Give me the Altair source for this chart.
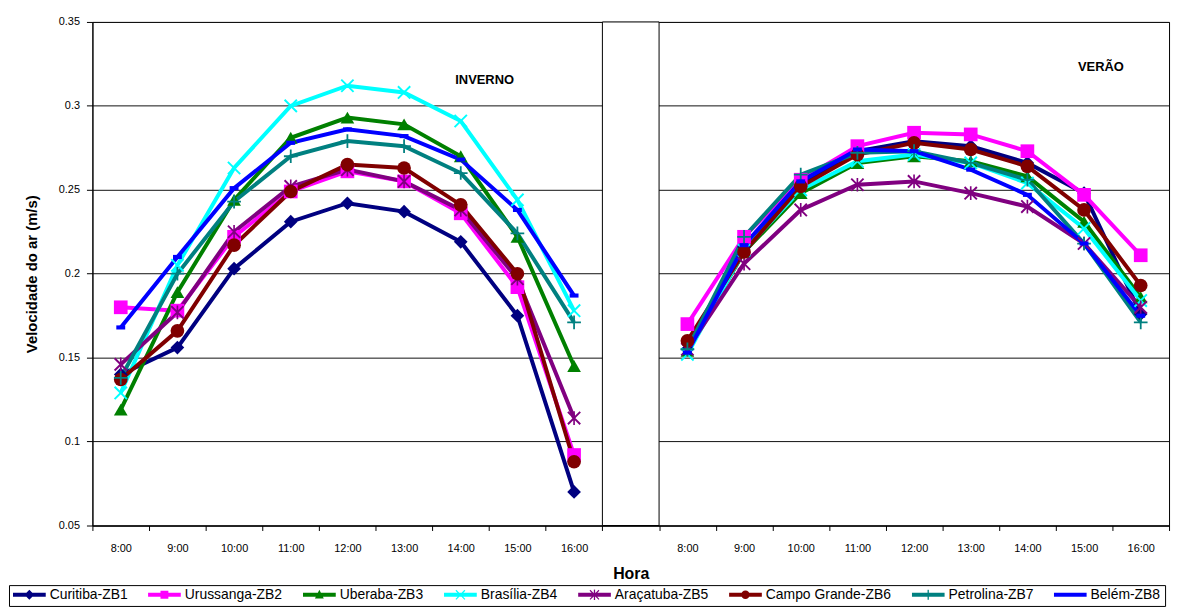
import json
import altair as alt
import pandas as pd

hours = ["8:00", "9:00", "10:00", "11:00", "12:00", "13:00", "14:00", "15:00", "16:00"]
series = ["Curitiba-ZB1", "Urussanga-ZB2", "Uberaba-ZB3", "Brasília-ZB4",
          "Araçatuba-ZB5", "Campo Grande-ZB6", "Petrolina-ZB7", "Belém-ZB8"]
colors = ["#000080", "#FF00FF", "#008000", "#00FFFF", "#800080", "#800000", "#008080", "#0000FF"]

# Inverno (winter)
curitiba_inv = [0.140, 0.156, 0.203, 0.231, 0.242, 0.237, 0.219, 0.175, 0.070]
urussanga_inv = [0.180, 0.178, 0.222, 0.249, 0.261, 0.255, 0.236, 0.192, 0.092]
uberaba_inv = [0.119, 0.189, 0.244, 0.281, 0.293, 0.289, 0.270, 0.222, 0.145]
brasilia_inv = [0.129, 0.205, 0.263, 0.300, 0.312, 0.308, 0.291, 0.244, 0.178]
aracatuba_inv = [0.146, 0.177, 0.225, 0.252, 0.262, 0.255, 0.238, 0.197, 0.114]
campogrande_inv = [0.137, 0.166, 0.217, 0.249, 0.265, 0.263, 0.241, 0.200, 0.088]
petrolina_inv = [0.138, 0.200, 0.243, 0.270, 0.279, 0.276, 0.260, 0.224, 0.171]
belem_inv = [0.168, 0.210, 0.251, 0.278, 0.286, 0.282, 0.268, 0.238, 0.187]

# Verão (summer)
curitiba_ver = [0.155, 0.216, 0.254, 0.273, 0.279, 0.276, 0.266, 0.248, 0.176]
urussanga_ver = [0.170, 0.222, 0.256, 0.276, 0.284, 0.283, 0.273, 0.247, 0.211]
uberaba_ver = [0.154, 0.213, 0.248, 0.266, 0.270, 0.267, 0.258, 0.231, 0.186]
brasilia_ver = [0.152, 0.214, 0.250, 0.267, 0.271, 0.266, 0.254, 0.227, 0.184]
aracatuba_ver = [0.155, 0.206, 0.238, 0.253, 0.255, 0.248, 0.240, 0.218, 0.180]
campogrande_ver = [0.160, 0.213, 0.252, 0.271, 0.278, 0.274, 0.264, 0.238, 0.193]
petrolina_ver = [0.155, 0.222, 0.259, 0.272, 0.273, 0.266, 0.256, 0.218, 0.171]
belem_ver = [0.153, 0.217, 0.255, 0.274, 0.273, 0.262, 0.247, 0.218, 0.175]

winter = [curitiba_inv, urussanga_inv, uberaba_inv, brasilia_inv,
          aracatuba_inv, campogrande_inv, petrolina_inv, belem_inv]
summer = [curitiba_ver, urussanga_ver, uberaba_ver, brasilia_ver,
          aracatuba_ver, campogrande_ver, petrolina_ver, belem_ver]

x_labels = hours + [""] + hours
y_ticks = [0.05, 0.1, 0.15, 0.2, 0.25, 0.3, 0.35]

# plot markers (unit paths)
X_PATH = "M-1,-0.8L-0.8,-1L1,0.8L0.8,1Z M-1,0.8L0.8,-1L1,-0.8L-0.8,1Z"
STAR_PATH = X_PATH + " M-0.12,-1H0.12V1H-0.12Z"
PLUS_PATH = "M-0.13,-1H0.13V-0.13H1V0.13H0.13V1H-0.13V0.13H-1V-0.13H-0.13Z"
DASH_PATH = "M-0.65,-0.3H0.65V0.3H-0.65Z"
shapes = ["diamond", "square", "triangle-up", X_PATH, STAR_PATH, "circle", PLUS_PATH, DASH_PATH]

# legend symbols: line segment with a small marker in the middle
LINE = "M-1,-0.12H1V0.12H-1Z"
leg_shapes = [
    LINE + " M0,-0.3L0.3,0L0,0.3L-0.3,0Z",
    LINE + " M-0.24,-0.24H0.24V0.24H-0.24Z",
    LINE + " M0,-0.3L0.27,0.22H-0.27Z",
    LINE + " M-0.3,-0.25L-0.25,-0.3L0.3,0.25L0.25,0.3Z M-0.3,0.25L0.25,-0.3L0.3,-0.25L-0.25,0.3Z",
    LINE + " M-0.3,-0.25L-0.25,-0.3L0.3,0.25L0.25,0.3Z M-0.3,0.25L0.25,-0.3L0.3,-0.25L-0.25,0.3Z"
           " M-0.04,-0.32H0.04V0.32H-0.04Z",
    LINE + " M-0.26,0A0.26,0.26 0 1,1 0.26,0A0.26,0.26 0 1,1 -0.26,0Z",
    LINE + " M-0.04,-0.3H0.04V0.3H-0.04Z",
    LINE,
]

rows = []
for s, name in enumerate(series):
    for i in range(len(hours)):
        rows.append({"series": name, "series_k": name,
                     "period": "inverno", "slot": i, "value": winter[s][i]})
        rows.append({"series": name, "series_k": name,
                     "period": "verao", "slot": 10 + i, "value": summer[s][i]})
df = pd.DataFrame(rows)

FONT = "Liberation Sans"
x_scale = alt.Scale(type="band", domain=list(range(19)), paddingInner=0, paddingOuter=0)
y_scale = alt.Scale(domain=[0.05, 0.35], nice=False, zero=False)

x_axis = alt.Axis(
    title="Hora", labelExpr=json.dumps(x_labels) + "[datum.value]", labelAngle=0,
    tickBand="extent", tickSize=5, tickColor="black", domainColor="black",
    labelFont=FONT, labelFontSize=11, labelColor="black", labelPadding=12,
    titleFont=FONT, titleFontSize=16, titleFontWeight="bold", titleColor="black",
    titlePadding=12, grid=False,
)
y_axis = alt.Axis(
    title="Velocidade do ar (m/s)", values=y_ticks, format=".2~f",
    tickSize=6, tickColor="black", domainColor="black",
    labelFont=FONT, labelFontSize=11, labelColor="black", labelPadding=7,
    titleFont=FONT, titleFontSize=15, titleFontWeight="bold", titleColor="black",
    titlePadding=19, grid=True, gridColor="#111111", gridWidth=1,
)

LFS = 14
legend = alt.Legend(
    orient="none", legendX=-84, legendY=567, direction="horizontal", columns=8,
    title=None, symbolSize=1089, symbolStrokeWidth=0, symbolOpacity=1,
    clipHeight=11, labelOffset=4, columnPadding=20, padding=4,
    labelFont=FONT, labelFontSize=LFS, labelColor="black", labelLimit=0,
    strokeColor="black",
)

gap = pd.DataFrame({"slot": [9]})
gap_rect = alt.Chart(gap).mark_rect(fill="white", stroke="black", strokeWidth=1).encode(
    x=alt.X("slot:O", scale=x_scale, axis=x_axis),
    y=alt.datum(0.35, scale=y_scale),
    y2=alt.datum(0.05),
)

lines = alt.Chart(df).mark_line(strokeWidth=4).encode(
    x=alt.X("slot:O", scale=x_scale, axis=x_axis),
    y=alt.Y("value:Q", scale=y_scale, axis=y_axis),
    color=alt.Color("series:N", scale=alt.Scale(domain=series, range=colors), legend=None),
    detail="period:N",
)

points = alt.Chart(df).mark_point(filled=True, opacity=1, strokeWidth=0, size=190).encode(
    x=alt.X("slot:O", scale=x_scale),
    y=alt.Y("value:Q", scale=y_scale),
    color=alt.Color("series:N", scale=alt.Scale(domain=series, range=colors), legend=None),
    shape=alt.Shape("series:N", scale=alt.Scale(domain=series, range=shapes), legend=None),
)

# invisible layer that only provides the legend (line + marker symbols)
legend_layer = alt.Chart(df).mark_point(filled=True, opacity=0, size=1).encode(
    x=alt.X("slot:O", scale=x_scale),
    y=alt.Y("value:Q", scale=y_scale),
    color=alt.Color("series_k:N", scale=alt.Scale(domain=series, range=colors), legend=legend),
    shape=alt.Shape("series_k:N", scale=alt.Scale(domain=series, range=leg_shapes), legend=legend),
)

ann_text = ["INVERNO", "VERÃO"]
ann_slot = [7, 17]
ann_y = [0.3157, 0.3234]
ann_dx = [-33, 17]
ann_layers = []
for t, sl, yv, dx in zip(ann_text, ann_slot, ann_y, ann_dx):
    ann_df = pd.DataFrame({"label": [t], "slot": [sl], "value": [yv]})
    ann_layers.append(
        alt.Chart(ann_df).mark_text(font=FONT, fontSize=13, fontWeight="bold",
                                     color="black", dx=dx).encode(
            x=alt.X("slot:O", scale=x_scale),
            y=alt.Y("value:Q", scale=y_scale),
            text="label:N",
        )
    )

chart = alt.layer(gap_rect, lines, points, legend_layer, *ann_layers).resolve_scale(
    color="independent", shape="independent"
).properties(
    width=1084, height=507,
    padding={"left": 85, "top": 12, "right": 7, "bottom": 80},
    autosize=alt.AutoSizeParams(type="none"),
).configure(
    background="white", font=FONT
).configure_view(
    stroke="black", strokeWidth=1
).configure_legend(
    labelFont=FONT, labelFontSize=LFS
)

chart.save("out.html", embed_options={"renderer": "svg", "actions": False})
